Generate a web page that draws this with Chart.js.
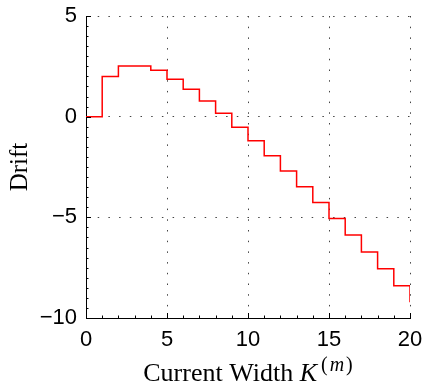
<!DOCTYPE html>
<html lang="en">
<head>
<meta charset="UTF-8">
<title>Drift</title>
<script src="https://cdn.jsdelivr.net/npm/chart.js"></script>
<style>
  html, body { margin: 0; padding: 0; background: #fff; }
  #wrap { width: 425px; height: 388px; }
</style>
</head>
<body>
<div id="wrap"><canvas id="myChart"></canvas></div>
<script>
// data
const widths = [0, 1, 2, 3, 4, 5, 6, 7, 8, 9, 10, 11, 12, 13, 14, 15, 16, 17, 18, 19, 20];
const drift = [0, 2.0, 2.52, 2.52, 2.3, 1.86, 1.36, 0.78, 0.17, -0.52, -1.2, -1.94, -2.7, -3.48, -4.26, -5.06, -5.88, -6.72, -7.56, -8.4, -9.22];
const xTicks = [0, 5, 10, 15, 20];
const yTicks = [-10, -5, 0, 5];

const tickFont = { family: "'Liberation Sans', Arial, sans-serif", size: 22 };
const serif = "'Liberation Serif', 'Times New Roman', serif";

// inward ticks on left and bottom axes, plus x title with italic K
const axisDeco = {
  id: 'axisDeco',
  afterDraw(chart) {
    const ctx = chart.ctx;
    const x = chart.scales.x, y = chart.scales.y;
    const a = chart.chartArea;
    ctx.save();
    ctx.strokeStyle = '#000';
    ctx.lineWidth = 1;
    ctx.beginPath();
    for (let v = 0; v <= 20; v++) {
      const px = Math.round(x.getPixelForValue(v)) + 0.5;
      const len = v % 5 === 0 ? 5 : 2.5;
      ctx.moveTo(px, a.bottom);
      ctx.lineTo(px, a.bottom - len);
    }
    for (let v = -10; v <= 5; v += 0.5) {
      const py = Math.round(y.getPixelForValue(v)) + 0.5;
      const len = v % 5 === 0 ? 5 : 2.5;
      ctx.moveTo(a.left, py);
      ctx.lineTo(a.left + len, py);
    }
    ctx.stroke();

    // x axis title
    const parts = [
      { t: 'Current Width ', f: '26px ' + serif, dy: 0, gap: 0 },
      { t: 'K', f: 'italic 26px ' + serif, dy: 0, gap: 4 },
      { t: '(', f: '20px ' + serif, dy: -10, gap: 2 },
      { t: 'm', f: 'italic 20px ' + serif, dy: -10, gap: 2 },
      { t: ')', f: '20px ' + serif, dy: -10, gap: 0 }
    ];
    let total = 0;
    parts.forEach(p => { ctx.font = p.f; p.w = ctx.measureText(p.t).width + p.gap; total += p.w; });
    let cx = (a.left + a.right) / 2 - total / 2;
    ctx.fillStyle = '#000';
    ctx.textBaseline = 'alphabetic';
    ctx.textAlign = 'left';
    parts.forEach(p => {
      ctx.font = p.f;
      ctx.fillText(p.t, cx, 381 + p.dy);
      cx += p.w;
    });
    ctx.restore();
  }
};

const ctx = document.querySelector('#myChart');
const driftChart = new Chart(ctx, {
  type: 'line',
  data: {
    labels: widths,
    datasets: [{
      label: 'Drift',
      data: widths.map((w, i) => ({ x: w, y: drift[i] })),
      stepped: 'before',
      borderColor: '#ff0000',
      borderWidth: 1.5,
      pointRadius: 0,
      fill: false
    }]
  },
  options: {
    responsive: true,
    maintainAspectRatio: false,
    animation: false,
    layout: { padding: { left: 0, right: 15, top: 16, bottom: 0 } },
    plugins: {
      legend: { display: false },
      tooltip: { enabled: false }
    },
    scales: {
      x: {
        type: 'linear',
        min: 0,
        max: 20,
        afterFit: s => { s.height = 70; s.paddingLeft = 0; s.paddingRight = 0; },
        afterBuildTicks: s => { s.ticks = xTicks.map(v => ({ value: v })); },
        ticks: { font: tickFont, color: '#000', padding: 9, maxRotation: 0 },
        grid: { color: '#444', lineWidth: 1, drawTicks: false },
        border: { display: true, color: '#000', width: 1, dash: [1.5, 9.2] }
      },
      y: {
        type: 'linear',
        min: -10,
        max: 5,
        afterFit: s => { s.width = 86; s.paddingTop = 0; s.paddingBottom = 0; },
        afterBuildTicks: s => { s.ticks = yTicks.map(v => ({ value: v })); },
        ticks: {
          font: tickFont, color: '#000', padding: 9,
          callback: v => String(v).replace('-', '\u2212')
        },
        grid: { color: '#444', lineWidth: 1, drawTicks: false },
        border: { display: true, color: '#000', width: 1, dash: [1.5, 9.2] },
        title: {
          display: true,
          text: 'Drift',
          font: { family: serif, size: 25 },
          color: '#000',
          padding: { top: 5, bottom: 4 }
        }
      }
    }
  },
  plugins: [axisDeco]
});
</script>
</body>
</html>
